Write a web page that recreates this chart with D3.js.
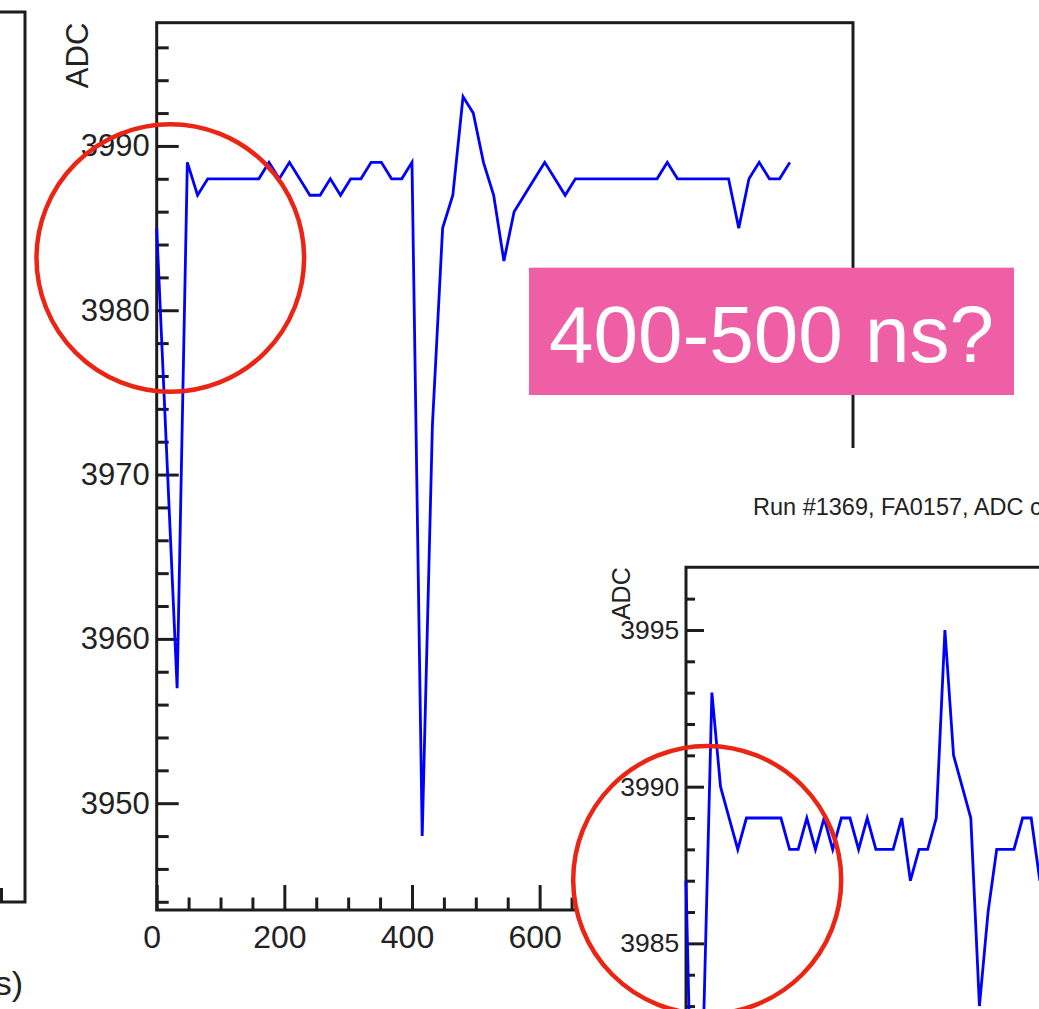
<!DOCTYPE html>
<html>
<head>
<meta charset="utf-8">
<script src="https://cdn.jsdelivr.net/npm/d3@7"></script>
<style>
  html, body { margin: 0; padding: 0; background: #fff; }
  svg { display: block; }
  text { font-family: "Liberation Sans", Arial, Helvetica, sans-serif; }
</style>
</head>
<body>
<svg id="slide" width="1039" height="1009"></svg>
<script>
// ADC samples are 16 ns apart
const sampleStep = 16;

// Main waveform: ADC counts per sample, starting at t = 0 ns
const mainAdc = [
  3985, 3971, 3957, 3989, 3987, 3988, 3988, 3988, 3988, 3988, 3988,
  3989, 3988, 3989, 3988, 3987, 3987, 3988, 3987, 3988, 3988, 3989,
  3989, 3988, 3988, 3989, 3948, 3973, 3985, 3987, 3993, 3992, 3989,
  3987, 3983, 3986, 3987, 3988, 3989, 3988, 3987, 3988,
  3988, 3988, 3988, 3988, 3988, 3988, 3988, 3988,
  3989, 3988, 3988, 3988, 3988, 3988, 3988,
  3985, 3988, 3989, 3988, 3988, 3989
];

// Second waveform (Run #1369, FA0157)
const insetAdc = [
  3987, 3975, 3982, 3993, 3990, 3989, 3988, 3989, 3989, 3989, 3989,
  3989, 3988, 3988, 3989, 3988, 3989, 3988, 3989, 3989, 3988, 3989,
  3988, 3988, 3988, 3989, 3987, 3988, 3988, 3989, 3995, 3991, 3990,
  3989, 3983, 3986, 3988, 3988, 3988, 3989, 3989, 3987
];

// Axis tick labels
const mainXTicks = [0, 200, 400, 600];
const mainYTicks = [3950, 3960, 3970, 3980, 3990];
const insetYTicks = [3985, 3990, 3995];

const insetTitle = "Run #1369, FA0157, ADC channel";
const yTitle = "ADC";
const leftXTitle = "Time (ns)";
const noteText = "400-500 ns?";

const ink = "#1c1c1c";
const blue = "#0000ff";
const red = "#eb2413";
const pink = "#ee5fa6";

const svg = d3.select("#slide");

function styleAxis(g, fontSize, width) {
  g.select(".domain").remove();
  g.selectAll(".tick line").attr("stroke", ink).attr("stroke-width", width);
  g.selectAll(".tick text")
    .attr("fill", "#222")
    .style("font-size", fontSize + "px")
    .style("font-family", '"Liberation Sans", Arial, Helvetica, sans-serif');
}

// ---------- neighbouring plot, only its right edge shows ----------
const leftPanel = svg.append("g");
leftPanel.append("path")
  .attr("d", "M-5,12H25V902H-5")
  .attr("fill", "none").attr("stroke", ink).attr("stroke-width", 3);
leftPanel.append("line")
  .attr("x1", 1.5).attr("x2", 1.5).attr("y1", 888).attr("y2", 902)
  .attr("stroke", ink).attr("stroke-width", 3);
leftPanel.append("text")
  .attr("x", 23).attr("y", 995)
  .attr("text-anchor", "end")
  .attr("font-size", 34).attr("fill", "#222")
  .text(leftXTitle);

// ---------- main waveform panel ----------
const M = { left: 156.7, right: 853, top: 22.7, bottom: 910 };
const mainTimes = mainAdc.map((_, i) => i * sampleStep);
const xMain = d3.scaleLinear().domain([0, 1091]).range([M.left, M.right]);
const [mMin, mMax] = d3.extent(mainAdc);
const mPad = 0.1 * (mMax - mMin);
const yMain = d3.scaleLinear().domain([mMin - mPad, mMax + mPad]).range([M.bottom, M.top]);

const main = svg.append("g");

main.append("g")
  .attr("transform", `translate(${M.left},0)`)
  .call(d3.axisLeft(yMain)
    .tickValues(d3.range(3944, 3998, 2).filter(v => v % 10 !== 0))
    .tickSize(-12).tickFormat(""))
  .call(g => styleAxis(g, 31, 3));

main.append("g")
  .attr("transform", `translate(${M.left},0)`)
  .call(d3.axisLeft(yMain).tickValues(mainYTicks).tickSize(-22).tickPadding(7)
    .tickFormat(d3.format("d")))
  .call(g => styleAxis(g, 31, 3));

main.append("g")
  .attr("transform", `translate(0,${M.bottom})`)
  .call(d3.axisBottom(xMain)
    .tickValues(d3.range(50, 1091, 50).filter(v => v % 200 !== 0))
    .tickSize(-12.5).tickFormat(""))
  .call(g => styleAxis(g, 32, 3));

main.append("g")
  .attr("transform", `translate(0,${M.bottom})`)
  .call(d3.axisBottom(xMain).tickValues(mainXTicks).tickSize(-25).tickPadding(15.6)
    .tickFormat(d3.format("d")))
  .call(g => styleAxis(g, 32, 3))
  .call(g => g.selectAll(".tick text").attr("dx", -5));

main.append("rect")
  .attr("x", M.left).attr("y", M.top)
  .attr("width", M.right - M.left).attr("height", M.bottom - M.top)
  .attr("fill", "none").attr("stroke", ink).attr("stroke-width", 3);

main.append("path")
  .datum(mainAdc)
  .attr("fill", "none").attr("stroke", blue).attr("stroke-width", 2.8)
  .attr("d", d3.line().x((d, i) => xMain(mainTimes[i])).y(d => yMain(d)));

main.append("text")
  .attr("transform", `translate(88,${M.top}) rotate(-90)`)
  .attr("text-anchor", "end")
  .attr("font-size", 31).attr("fill", "#222")
  .text(yTitle);

// circle around the start of the main trace
svg.append("ellipse")
  .attr("cx", 170.3).attr("cy", 258).attr("rx", 133.8).attr("ry", 133.8)
  .attr("fill", "none").attr("stroke", red).attr("stroke-width", 4.5);

// question callout
const note = svg.append("g");
note.append("rect")
  .attr("x", 529).attr("y", 267.7).attr("width", 485).attr("height", 127.3)
  .attr("fill", pink);
note.append("text")
  .attr("x", 771.5).attr("y", 362.3)
  .attr("text-anchor", "middle")
  .attr("font-size", 80).attr("fill", "#fff")
  .text(noteText);

// ---------- second waveform panel ----------
const inset = svg.append("g");
inset.append("rect")
  .attr("x", 575).attr("y", 448).attr("width", 470).attr("height", 570)
  .attr("fill", "#fff");

const I = { left: 686, top: 567.3 };
const insetTimes = insetAdc.map((_, i) => i * sampleStep);
const xInset = d3.scaleLinear().domain([0, 1091]).range([I.left, I.left + 1091 * 0.5394]);
const [iMin, iMax] = d3.extent(insetAdc);
const iPad = 0.1 * (iMax - iMin);
const yInset = d3.scaleLinear().domain([iMin - iPad, iMax + iPad])
  .range([I.top + (iMax - iMin + 2 * iPad) * 31.34, I.top]);

inset.append("text")
  .attr("x", 753).attr("y", 515)
  .attr("font-size", 23.5).attr("fill", "#222")
  .text(insetTitle);

inset.append("g")
  .attr("transform", `translate(${I.left},0)`)
  .call(d3.axisLeft(yInset)
    .tickValues(d3.range(3974, 3997, 1).filter(v => v % 5 !== 0))
    .tickSize(-9).tickFormat(""))
  .call(g => styleAxis(g, 26.5, 3));

inset.append("g")
  .attr("transform", `translate(${I.left},0)`)
  .call(d3.axisLeft(yInset).tickValues(insetYTicks).tickSize(-18).tickPadding(6.7)
    .tickFormat(d3.format("d")))
  .call(g => styleAxis(g, 26.5, 3));

inset.append("path")
  .attr("d", `M${I.left},1100V${I.top}H1050`)
  .attr("fill", "none").attr("stroke", ink).attr("stroke-width", 3);

inset.append("path")
  .datum(insetAdc)
  .attr("fill", "none").attr("stroke", blue).attr("stroke-width", 2.8)
  .attr("d", d3.line().x((d, i) => xInset(insetTimes[i])).y(d => yInset(d)));

inset.append("text")
  .attr("transform", `translate(630,${I.top}) rotate(-90)`)
  .attr("text-anchor", "end")
  .attr("font-size", 25).attr("fill", "#222")
  .text(yTitle);

// circle around the start of the second trace
svg.append("ellipse")
  .attr("cx", 707.2).attr("cy", 880).attr("rx", 134).attr("ry", 134)
  .attr("fill", "none").attr("stroke", red).attr("stroke-width", 4.5);
</script>
</body>
</html>
